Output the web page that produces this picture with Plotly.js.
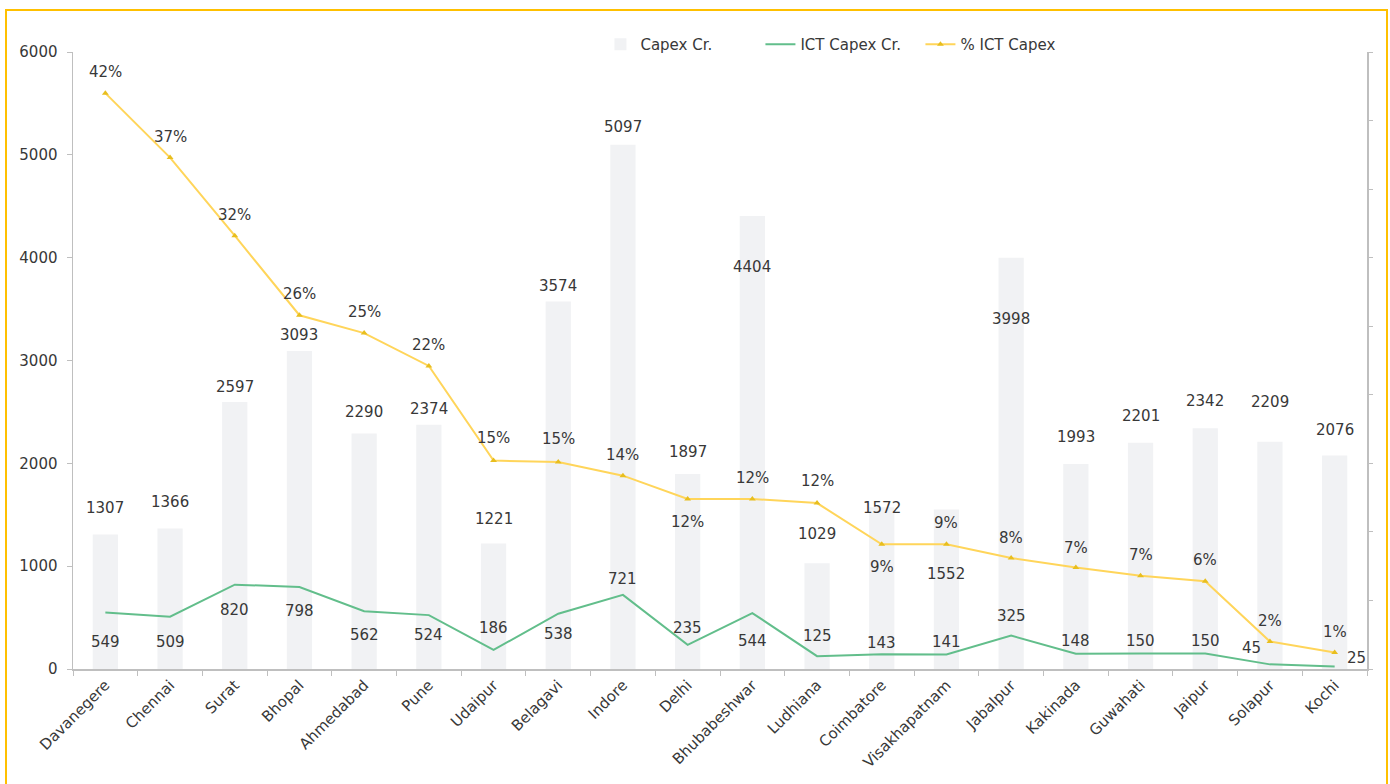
<!DOCTYPE html>
<html>
<head>
<meta charset="utf-8">
<script src="https://cdn.plot.ly/plotly-3.0.1.min.js"></script>
<style>
  html, body { margin: 0; padding: 0; background: #ffffff; }
  #wrap { position: relative; width: 1390px; height: 784px; overflow: hidden; }
  #chart { position: absolute; left: 0; top: 0; width: 1390px; height: 784px; }
  #frame { position: absolute; left: 5px; top: 9px; width: 1383px; height: 790px;
           border: 2px solid #FFC000; box-sizing: border-box; pointer-events: none; }
</style>
</head>
<body>
<div id="wrap">
  <div id="chart"></div>
  <div id="frame"></div>
</div>
<script>
// ---- data ----
const cities = ["Davanegere","Chennai","Surat","Bhopal","Ahmedabad","Pune","Udaipur","Belagavi","Indore","Delhi",
                "Bhubabeshwar","Ludhiana","Coimbatore","Visakhapatnam","Jabalpur","Kakinada","Guwahati","Jaipur","Solapur","Kochi"];
const capex = [1307,1366,2597,3093,2290,2374,1221,3574,5097,1897,4404,1029,1572,1552,3998,1993,2201,2342,2209,2076];
const ictCapex = [549,509,820,798,562,524,186,538,721,235,544,125,143,141,325,148,150,150,45,25];
const pctIct = [0.420,0.373,0.316,0.258,0.245,0.221,0.152,0.151,0.141,0.124,0.124,0.121,0.091,0.091,0.081,0.074,0.068,0.064,0.020,0.012];
const leftTicks = [0,1000,2000,3000,4000,5000,6000];

// ---- label offsets (px), styling only ----
const capexShift = [18,18,6,7,13,7,15,6,9,13,-60,20,-10,-74,-70,18,18,18,31,17];
const ictShift   = [-29,-25,-25,-24,-24,-20,22,-20,16,17,-28,20,11,13,20,13,13,13,16,8];
const ictXShift  = [0,0,0,0,0,0,0,0,0,0,0,0,0,0,0,0,0,0,-18,22];
const pctShift   = [21,21,21,21,21,21,23,23,21,-23,21,22,-23,21,20,20,21,21,21,21];

const FONT = "DejaVu Sans, Verdana, sans-serif";
const TXT = "#383838";
const AX = "#BFBFBF";

const traces = [
  { type: "bar", name: "Capex Cr.", x: cities, y: capex, marker: { color: "#F1F2F4" },
    width: 0.39, yaxis: "y" },
  { type: "scatter", mode: "lines", name: "ICT Capex Cr.", x: cities, y: ictCapex,
    line: { color: "#62BE8B", width: 2 }, yaxis: "y" },
  { type: "scatter", mode: "lines+markers", name: "% ICT Capex", x: cities, y: pctIct,
    line: { color: "#FFD55A", width: 2 }, marker: { symbol: "triangle-up", size: 6, color: "#E8BE1E" },
    yaxis: "y2" }
];

const annotations = [];
const fnt = { family: FONT, size: 15, color: TXT };
cities.forEach((c, i) => {
  annotations.push({ x: c, y: capex[i], xref: "x", yref: "y", text: String(capex[i]),
    showarrow: false, yshift: capexShift[i] + 9, font: fnt });
  annotations.push({ x: c, y: ictCapex[i], xref: "x", yref: "y", text: String(ictCapex[i]),
    showarrow: false, yshift: ictShift[i], xshift: ictXShift[i], font: fnt });
  annotations.push({ x: c, y: pctIct[i], xref: "x", yref: "y2", text: Math.round(pctIct[i] * 100) + "%",
    showarrow: false, yshift: pctShift[i], font: fnt });
});

const layout = {
  width: 1390, height: 784,
  margin: { l: 73, r: 23, t: 52, b: 115 },
  paper_bgcolor: "#ffffff", plot_bgcolor: "#ffffff",
  font: { family: FONT, size: 15, color: TXT },
  showlegend: true,
  legend: { orientation: "h", x: 0.4076, xanchor: "left", y: 1.012, yanchor: "middle",
            font: { family: FONT, size: 15, color: TXT }, bgcolor: "rgba(0,0,0,0)",
            traceorder: "normal", entrywidth: 115, entrywidthmode: "pixels" },
  xaxis: { type: "category", range: [-0.5, 19.5], tickangle: -45, showgrid: false,
           showline: true, linecolor: AX, linewidth: 1.5, ticks: "outside", ticklen: 5,
           tickcolor: AX, tickson: "boundaries", tickfont: { family: FONT, size: 15, color: TXT } },
  yaxis: { range: [0, 6000], tickvals: leftTicks, ticktext: leftTicks.map(String), showgrid: false, zeroline: false,
           showline: true, linecolor: AX, linewidth: 1.5, ticks: "outside", ticklen: 5, tickcolor: AX,
           ticklabelstandoff: 6, tickfont: { family: FONT, size: 15, color: TXT } },
  yaxis2: { range: [0, 0.45], dtick: 0.05, overlaying: "y", side: "right", showticklabels: false,
            showgrid: false, zeroline: false, showline: true, linecolor: AX, linewidth: 1.5,
            ticks: "outside", ticklen: 4, tickcolor: AX },
  annotations: annotations
};

Plotly.newPlot("chart", traces, layout, { displayModeBar: false, staticPlot: true });
</script>
</body>
</html>
